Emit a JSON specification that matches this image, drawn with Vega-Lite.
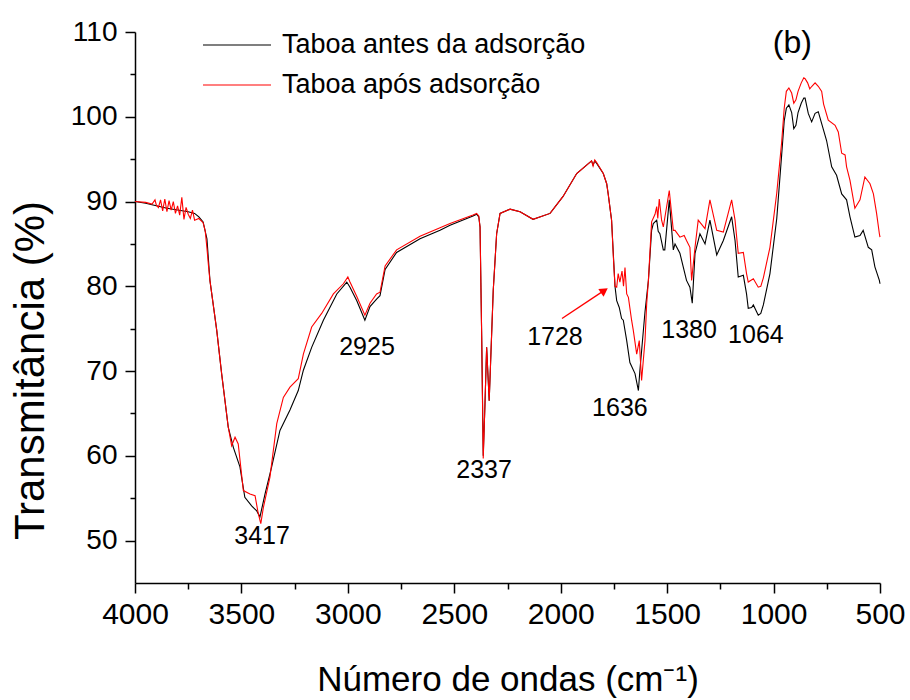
{
"$schema": "https://vega.github.io/schema/vega-lite/v6.json",
"width": 745, "height": 551,
"autosize": {"type": "none"},
"padding": {"left": 135, "top": 32, "right": 30, "bottom": 117},
"background": "white",
"config": {
 "view": {"stroke": null},
 "font": "Liberation Sans",
 "axis": {"grid": false, "domainColor": "black", "tickColor": "black", "labelColor": "black", "titleColor": "black", "domainWidth": 1.5, "tickWidth": 1.5, "labelFont": "Liberation Sans", "titleFont": "Liberation Sans", "titleFontWeight": "normal"},
 "legend": {"labelFont": "Liberation Sans"}
},
"datasets": {
"antes": [
{"wn":4000,"T":90.0},{"wn":3950,"T":89.8},{"wn":3900,"T":89.5},{"wn":3850,"T":89.2},{"wn":3800,"T":89.0},{"wn":3750,"T":88.8},{"wn":3720,"T":88.6},{"wn":3700,"T":88.2},{"wn":3680,"T":87.6},{"wn":3662,"T":85.6},{"wn":3648,"T":80.7},{"wn":3616,"T":74.8},{"wn":3593,"T":69.7},{"wn":3562,"T":63.4},{"wn":3538,"T":61.0},{"wn":3507,"T":58.7},{"wn":3484,"T":55.1},{"wn":3452,"T":54.1},{"wn":3428,"T":53.5},{"wn":3413,"T":52.8},{"wn":3389,"T":55.5},{"wn":3358,"T":58.7},{"wn":3319,"T":63.0},{"wn":3272,"T":65.4},{"wn":3233,"T":67.7},{"wn":3209,"T":70.1},{"wn":3170,"T":72.8},{"wn":3115,"T":76.0},{"wn":3052,"T":79.1},{"wn":3005,"T":80.5},{"wn":2990,"T":79.9},{"wn":2958,"T":78.3},{"wn":2920,"T":76.0},{"wn":2896,"T":77.6},{"wn":2865,"T":78.5},{"wn":2849,"T":78.9},{"wn":2825,"T":82.0},{"wn":2771,"T":84.0},{"wn":2661,"T":85.6},{"wn":2567,"T":86.6},{"wn":2520,"T":87.2},{"wn":2412,"T":88.3},{"wn":2395,"T":88.5},{"wn":2385,"T":88.2},{"wn":2379,"T":87.0},{"wn":2371,"T":73.6},{"wn":2364,"T":60.0},{"wn":2356,"T":66.0},{"wn":2348,"T":72.8},{"wn":2336,"T":66.5},{"wn":2317,"T":79.5},{"wn":2301,"T":86.2},{"wn":2285,"T":88.6},{"wn":2238,"T":89.1},{"wn":2191,"T":88.8},{"wn":2130,"T":87.9},{"wn":2050,"T":88.6},{"wn":1989,"T":90.6},{"wn":1925,"T":93.3},{"wn":1855,"T":94.8},{"wn":1848,"T":94.3},{"wn":1840,"T":94.8},{"wn":1831,"T":94.5},{"wn":1800,"T":93.3},{"wn":1784,"T":92.1},{"wn":1777,"T":90.9},{"wn":1761,"T":87.8},{"wn":1753,"T":83.9},{"wn":1745,"T":80.0},{"wn":1737,"T":78.3},{"wn":1725,"T":77.5},{"wn":1714,"T":76.2},{"wn":1706,"T":76.0},{"wn":1690,"T":73.6},{"wn":1675,"T":71.0},{"wn":1651,"T":69.7},{"wn":1635,"T":67.7},{"wn":1628,"T":70.1},{"wn":1604,"T":77.0},{"wn":1588,"T":80.7},{"wn":1573,"T":86.6},{"wn":1565,"T":87.4},{"wn":1549,"T":87.8},{"wn":1542,"T":86.5},{"wn":1534,"T":86.2},{"wn":1518,"T":84.3},{"wn":1511,"T":84.3},{"wn":1490,"T":90.2},{"wn":1471,"T":84.3},{"wn":1463,"T":85.0},{"wn":1440,"T":83.9},{"wn":1409,"T":80.7},{"wn":1393,"T":79.9},{"wn":1382,"T":78.0},{"wn":1369,"T":83.9},{"wn":1346,"T":86.2},{"wn":1322,"T":85.0},{"wn":1299,"T":87.8},{"wn":1267,"T":83.7},{"wn":1236,"T":85.4},{"wn":1197,"T":88.2},{"wn":1181,"T":85.4},{"wn":1166,"T":81.1},{"wn":1142,"T":81.3},{"wn":1127,"T":79.1},{"wn":1119,"T":77.4},{"wn":1103,"T":77.5},{"wn":1095,"T":77.8},{"wn":1072,"T":76.6},{"wn":1060,"T":76.8},{"wn":1048,"T":77.8},{"wn":1017,"T":81.5},{"wn":985,"T":88.0},{"wn":962,"T":95.5},{"wn":950,"T":99.5},{"wn":940,"T":101.0},{"wn":928,"T":101.4},{"wn":915,"T":100.5},{"wn":905,"T":98.6},{"wn":895,"T":99.0},{"wn":885,"T":100.5},{"wn":870,"T":101.6},{"wn":858,"T":102.2},{"wn":852,"T":102.2},{"wn":837,"T":100.4},{"wn":821,"T":99.4},{"wn":805,"T":100.4},{"wn":790,"T":100.6},{"wn":774,"T":99.2},{"wn":751,"T":97.2},{"wn":727,"T":94.1},{"wn":704,"T":93.1},{"wn":680,"T":90.9},{"wn":657,"T":90.2},{"wn":641,"T":88.2},{"wn":618,"T":85.8},{"wn":594,"T":86.0},{"wn":579,"T":86.6},{"wn":555,"T":84.6},{"wn":539,"T":84.3},{"wn":524,"T":82.3},{"wn":503,"T":80.7},{"wn":500,"T":80.3}
],
"apos": [
{"wn":4000,"T":90.0},{"wn":3950,"T":89.9},{"wn":3920,"T":89.7},{"wn":3906,"T":90.2},{"wn":3900,"T":89.6},{"wn":3890,"T":89.3},{"wn":3880,"T":90.2},{"wn":3870,"T":88.9},{"wn":3860,"T":90.3},{"wn":3850,"T":88.8},{"wn":3840,"T":90.1},{"wn":3830,"T":89.0},{"wn":3820,"T":90.0},{"wn":3810,"T":88.6},{"wn":3800,"T":89.5},{"wn":3790,"T":88.4},{"wn":3780,"T":90.5},{"wn":3770,"T":87.9},{"wn":3760,"T":89.3},{"wn":3750,"T":88.5},{"wn":3740,"T":88.0},{"wn":3730,"T":89.0},{"wn":3720,"T":87.8},{"wn":3700,"T":88.0},{"wn":3680,"T":87.5},{"wn":3670,"T":86.5},{"wn":3662,"T":84.5},{"wn":3655,"T":82.5},{"wn":3648,"T":80.7},{"wn":3616,"T":74.8},{"wn":3593,"T":69.7},{"wn":3562,"T":63.4},{"wn":3546,"T":61.2},{"wn":3530,"T":62.2},{"wn":3515,"T":61.4},{"wn":3491,"T":55.9},{"wn":3460,"T":55.5},{"wn":3436,"T":55.3},{"wn":3421,"T":53.2},{"wn":3409,"T":52.0},{"wn":3397,"T":53.9},{"wn":3366,"T":57.5},{"wn":3334,"T":63.8},{"wn":3303,"T":66.9},{"wn":3272,"T":68.1},{"wn":3233,"T":69.1},{"wn":3209,"T":72.0},{"wn":3170,"T":75.2},{"wn":3123,"T":76.8},{"wn":3068,"T":79.1},{"wn":3021,"T":80.3},{"wn":3000,"T":81.1},{"wn":2990,"T":80.5},{"wn":2958,"T":78.8},{"wn":2920,"T":76.6},{"wn":2896,"T":78.0},{"wn":2865,"T":79.1},{"wn":2849,"T":79.3},{"wn":2825,"T":82.4},{"wn":2771,"T":84.3},{"wn":2661,"T":85.9},{"wn":2567,"T":86.9},{"wn":2520,"T":87.4},{"wn":2412,"T":88.4},{"wn":2395,"T":88.6},{"wn":2385,"T":88.3},{"wn":2379,"T":87.0},{"wn":2371,"T":73.6},{"wn":2364,"T":59.7},{"wn":2356,"T":66.0},{"wn":2348,"T":72.8},{"wn":2336,"T":66.5},{"wn":2317,"T":79.5},{"wn":2301,"T":86.2},{"wn":2285,"T":88.6},{"wn":2238,"T":89.1},{"wn":2191,"T":88.8},{"wn":2130,"T":87.9},{"wn":2050,"T":88.6},{"wn":1989,"T":90.6},{"wn":1925,"T":93.3},{"wn":1855,"T":94.8},{"wn":1848,"T":94.2},{"wn":1840,"T":94.9},{"wn":1831,"T":94.6},{"wn":1800,"T":93.3},{"wn":1784,"T":92.1},{"wn":1777,"T":90.9},{"wn":1761,"T":87.8},{"wn":1753,"T":83.6},{"wn":1745,"T":80.0},{"wn":1737,"T":79.9},{"wn":1730,"T":81.5},{"wn":1722,"T":80.5},{"wn":1712,"T":81.8},{"wn":1705,"T":80.0},{"wn":1698,"T":82.2},{"wn":1690,"T":79.1},{"wn":1682,"T":78.7},{"wn":1667,"T":76.0},{"wn":1659,"T":74.8},{"wn":1643,"T":72.0},{"wn":1631,"T":73.6},{"wn":1620,"T":68.9},{"wn":1604,"T":73.6},{"wn":1596,"T":78.0},{"wn":1588,"T":80.7},{"wn":1573,"T":87.6},{"wn":1557,"T":88.5},{"wn":1549,"T":89.4},{"wn":1544,"T":88.0},{"wn":1537,"T":90.3},{"wn":1526,"T":87.8},{"wn":1518,"T":87.0},{"wn":1490,"T":91.3},{"wn":1471,"T":86.6},{"wn":1463,"T":86.6},{"wn":1440,"T":85.8},{"wn":1420,"T":86.0},{"wn":1409,"T":85.4},{"wn":1393,"T":84.6},{"wn":1385,"T":80.7},{"wn":1369,"T":84.6},{"wn":1354,"T":87.8},{"wn":1322,"T":86.8},{"wn":1299,"T":90.2},{"wn":1267,"T":86.6},{"wn":1236,"T":86.4},{"wn":1197,"T":90.2},{"wn":1181,"T":87.8},{"wn":1166,"T":83.9},{"wn":1142,"T":84.0},{"wn":1127,"T":81.5},{"wn":1119,"T":80.5},{"wn":1095,"T":80.9},{"wn":1072,"T":79.9},{"wn":1060,"T":80.0},{"wn":1048,"T":81.0},{"wn":1017,"T":84.6},{"wn":985,"T":91.0},{"wn":962,"T":97.0},{"wn":950,"T":101.0},{"wn":940,"T":103.0},{"wn":928,"T":103.4},{"wn":915,"T":102.8},{"wn":905,"T":101.6},{"wn":895,"T":102.0},{"wn":885,"T":103.0},{"wn":870,"T":104.0},{"wn":858,"T":104.6},{"wn":852,"T":104.5},{"wn":840,"T":104.0},{"wn":830,"T":103.3},{"wn":820,"T":103.6},{"wn":805,"T":104.0},{"wn":790,"T":103.6},{"wn":774,"T":103.0},{"wn":765,"T":101.5},{"wn":743,"T":99.6},{"wn":711,"T":99.0},{"wn":696,"T":98.2},{"wn":680,"T":95.7},{"wn":664,"T":95.5},{"wn":657,"T":94.1},{"wn":641,"T":92.5},{"wn":618,"T":89.2},{"wn":594,"T":90.2},{"wn":571,"T":92.9},{"wn":547,"T":92.1},{"wn":531,"T":90.9},{"wn":516,"T":88.6},{"wn":503,"T":86.2},{"wn":500,"T":85.8}
],
"peaks": [
{"wn":3403,"T":50.6,"label":"3417"},{"wn":2910,"T":72.8,"label":"2925"},{"wn":2360,"T":58.3,"label":"2337"},{"wn":2027,"T":74.0,"label":"1728"},{"wn":1722,"T":65.7,"label":"1636"},{"wn":1397,"T":74.9,"label":"1380"},{"wn":1083,"T":74.2,"label":"1064"}
],
"panel": [{"wn":912,"T":108.7,"label":"(b)"}],
"arrow": [{"wn":1994,"T":76.2,"wn2":1790,"T2":79.6}],
"head": [{"wn":1795,"T":79.5}]
},
"layer": [
{"data": {"name": "antes"}, "mark": {"type": "line", "strokeWidth": 1.1},
 "encoding": {
  "x": {"field": "wn", "type": "quantitative",
   "scale": {"domain": [500, 4000], "reverse": true, "nice": false, "zero": false},
   "axis": {"values": [4000,3750,3500,3250,3000,2750,2500,2250,2000,1750,1500,1250,1000,750,500],
    "tickSize": {"condition": {"test": "datum.value % 500 === 0", "value": 10}, "value": 6},
    "labelExpr": "datum.value % 500 === 0 ? datum.label : ''",
    "format": "d", "labelFontSize": 30, "labelPadding": 6, "labelFlush": false, "labelOverlap": false,
    "title": "Número de ondas (cm⁻¹)", "titleFontSize": 35, "titleY": 107, "titleBaseline": "alphabetic"}},
  "y": {"field": "T", "type": "quantitative",
   "scale": {"domain": [45, 110], "nice": false, "zero": false},
   "axis": {"values": [50,55,60,65,70,75,80,85,90,95,100,105,110],
    "tickSize": {"condition": {"test": "datum.value % 10 === 0", "value": 10}, "value": 5},
    "labelExpr": "datum.value % 10 === 0 ? datum.label : ''",
    "labelFontSize": 28, "labelPadding": 8, "labelOverlap": false, "labelFlush": false,
    "title": "Transmitância (%)", "titleFontSize": 42, "titleAngle": 270, "titleX": -92, "titleY": 338, "titleAlign": "center", "titleBaseline": "alphabetic"}},
  "color": {"datum": "Taboa antes da adsorção", "type": "nominal",
   "scale": {"domain": ["Taboa antes da adsorção", "Taboa após adsorção"], "range": ["black", "red"]},
   "legend": {"orient": "none", "legendX": 67, "legendY": -2, "title": null, "symbolType": "stroke", "symbolSize": 4624, "symbolStrokeWidth": 1.2, "labelFontSize": 27, "labelOffset": 10, "clipHeight": 30, "rowPadding": 10, "padding": 0, "labelLimit": 600, "labelColor": "black"}}
 }},
{"data": {"name": "apos"}, "mark": {"type": "line", "strokeWidth": 1.1},
 "encoding": {
  "x": {"field": "wn", "type": "quantitative"},
  "y": {"field": "T", "type": "quantitative"},
  "color": {"datum": "Taboa após adsorção", "type": "nominal"}
 }},
{"data": {"name": "peaks"}, "mark": {"type": "text", "fontSize": 25, "align": "center", "baseline": "middle", "color": "black", "font": "Liberation Sans"},
 "encoding": {"x": {"field": "wn", "type": "quantitative"}, "y": {"field": "T", "type": "quantitative"}, "text": {"field": "label"}}},
{"data": {"name": "panel"}, "mark": {"type": "text", "fontSize": 32, "align": "center", "baseline": "middle", "color": "black", "font": "Liberation Sans"},
 "encoding": {"x": {"field": "wn", "type": "quantitative"}, "y": {"field": "T", "type": "quantitative"}, "text": {"field": "label"}}},
{"data": {"name": "arrow"}, "mark": {"type": "rule", "color": "red", "strokeWidth": 1.4},
 "encoding": {"x": {"field": "wn", "type": "quantitative"}, "y": {"field": "T", "type": "quantitative"}, "x2": {"field": "wn2"}, "y2": {"field": "T2"}}},
{"data": {"name": "head"}, "mark": {"type": "point", "shape": "triangle-up", "filled": true, "color": "red", "size": 90, "angle": 56, "opacity": 1},
 "encoding": {"x": {"field": "wn", "type": "quantitative"}, "y": {"field": "T", "type": "quantitative"}}}
]
}
